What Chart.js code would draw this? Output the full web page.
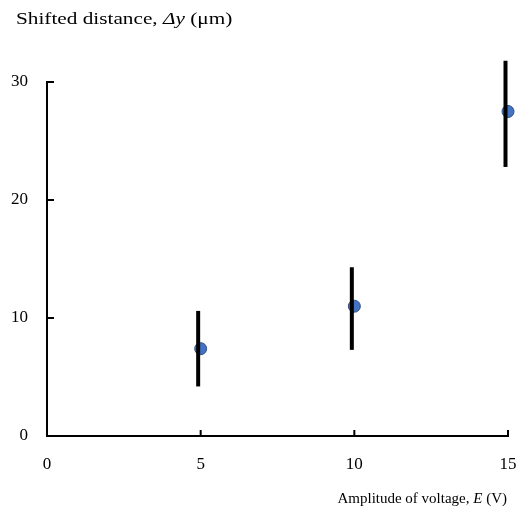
<!DOCTYPE html>
<html>
<head>
<meta charset="utf-8">
<title>Shifted distance vs amplitude of voltage</title>
<script src="https://cdn.jsdelivr.net/npm/chart.js@4.4.1/dist/chart.umd.min.js"></script>
<style>
  html, body { margin: 0; padding: 0; background: #fff; }
  #wrap { width: 520px; height: 514px; }
</style>
</head>
<body>
<div id="wrap"><canvas id="chart-shift" width="520" height="514"></canvas></div>
<script>
"use strict";

// ── Data ────────────────────────────────────────────────────────────────────
const VOLTAGES   = [5, 10, 15];          // E (V)
const SHIFT_MEAN = [7.4, 11.0, 27.5];    // Δy (µm)
const SHIFT_HIGH = [10.6, 14.3, 31.8];   // top of error bar
const SHIFT_LOW  = [4.2, 7.3, 22.8];     // bottom of error bar
const X_TICKS    = [0, 5, 10, 15];
const Y_TICKS    = [0, 10, 20, 30];

const SERIF = "'Liberation Serif', 'Times New Roman', serif";

function el(id) { return document.getElementById(id); }

// ── Plugins ─────────────────────────────────────────────────────────────────
// vertical error bars, drawn on top of the markers
const errorBars = {
  id: "errorBars",
  afterDatasetsDraw(chart) {
    const { ctx, scales: { x, y } } = chart;
    ctx.save();
    ctx.strokeStyle = "#000";
    ctx.lineWidth = 4;
    VOLTAGES.forEach((v, i) => {
      const px = x.getPixelForValue(v) - 2.5;
      ctx.beginPath();
      ctx.moveTo(px, y.getPixelForValue(SHIFT_HIGH[i]));
      ctx.lineTo(px, y.getPixelForValue(SHIFT_LOW[i]));
      ctx.stroke();
    });
    ctx.restore();
  },
};

// small tick marks pointing into the plot
const innerTicks = {
  id: "innerTicks",
  afterDraw(chart) {
    const { ctx, chartArea: a, scales: { x, y } } = chart;
    ctx.save();
    ctx.strokeStyle = "#000";
    ctx.lineWidth = 2;
    Y_TICKS.slice(1).forEach(t => {
      const py = y.getPixelForValue(t);
      ctx.beginPath();
      ctx.moveTo(a.left, py);
      ctx.lineTo(a.left + 7, py);
      ctx.stroke();
    });
    X_TICKS.slice(1).forEach(t => {
      const px = x.getPixelForValue(t);
      ctx.beginPath();
      ctx.moveTo(px, a.bottom);
      ctx.lineTo(px, a.bottom - 6);
      ctx.stroke();
    });
    ctx.restore();
  },
};

// axis titles with italic symbols (stretch = horizontal scale of the text)
function drawRich(ctx, parts, x, y, size, align, stretch) {
  const fontOf = p => (p.italic ? "italic " : "") + size + "px " + SERIF;
  let total = 0;
  parts.forEach(p => { ctx.font = fontOf(p); total += ctx.measureText(p.text).width; });
  ctx.save();
  ctx.translate(x, y);
  ctx.scale(stretch, 1);
  let cx = align === "right" ? -total : 0;
  parts.forEach(p => {
    ctx.font = fontOf(p);
    ctx.fillText(p.text, cx, 0);
    cx += ctx.measureText(p.text).width;
  });
  ctx.restore();
}

const axisTitles = {
  id: "axisTitles",
  afterDraw(chart) {
    const { ctx } = chart;
    ctx.save();
    ctx.fillStyle = "#000";
    ctx.textBaseline = "alphabetic";
    ctx.textAlign = "left";
    drawRich(ctx, [
      { text: "Shifted distance, " },
      { text: "Δy", italic: true },
      { text: " (μm)" },
    ], 16, 24, 17, "left", 1.25);
    drawRich(ctx, [
      { text: "Amplitude of voltage, " },
      { text: "E", italic: true },
      { text: " (V)" },
    ], 507, 503, 15, "right", 1);
    ctx.restore();
  },
};

// ── Chart ───────────────────────────────────────────────────────────────────
const points = VOLTAGES.map((v, i) => ({ x: v, y: SHIFT_MEAN[i] }));

new Chart(el("chart-shift"), {
  type: "scatter",
  data: {
    datasets: [{
      label: "Δy",
      data: points,
      backgroundColor: "#4472c4",
      borderColor: "#2f4f7f",
      borderWidth: 1,
      pointRadius: 6,
      pointHoverRadius: 6,
      clip: false,
    }],
  },
  options: {
    responsive: false,
    animation: false,
    layout: { padding: { top: 82, right: 12, bottom: 0, left: 0 } },
    plugins: {
      legend: { display: false },
      tooltip: { enabled: false },
    },
    scales: {
      x: {
        type: "linear",
        min: 0,
        max: 15,
        afterBuildTicks: s => { s.ticks = X_TICKS.map(v => ({ value: v })); },
        afterFit: s => { s.height = 78; s.paddingLeft = 0; s.paddingRight = 0; },
        grid: { display: false, drawTicks: false },
        border: { display: true, color: "#000", width: 2 },
        ticks: { color: "#000", padding: 18, font: { family: SERIF, size: 17 } },
      },
      y: {
        type: "linear",
        min: 0,
        max: 30,
        afterBuildTicks: s => { s.ticks = Y_TICKS.map(v => ({ value: v })); },
        afterFit: s => { s.width = 47; s.paddingTop = 0; s.paddingBottom = 0; },
        grid: { display: false, drawTicks: false },
        border: { display: true, color: "#000", width: 2 },
        ticks: { color: "#000", padding: 19, font: { family: SERIF, size: 17 } },
      },
    },
  },
  plugins: [errorBars, innerTicks, axisTitles],
});
</script>
</body>
</html>
